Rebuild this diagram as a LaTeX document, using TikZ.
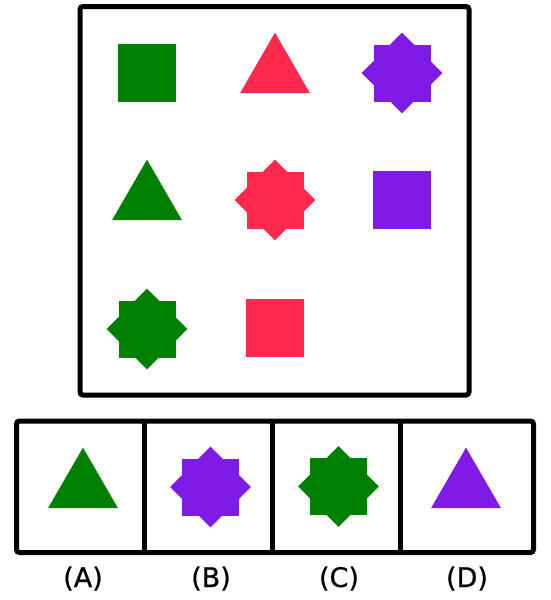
\documentclass[tikz,border=0pt]{standalone}
\usepackage{fontspec}
\setmainfont{DejaVu Sans}
\newfontfamily\lblfont[FakeBold=0.7]{DejaVu Sans}
\definecolor{cgreen}{RGB}{0,128,0}
\definecolor{cred}{RGB}{255,41,77}
\definecolor{cpurple}{RGB}{128,26,230}
\begin{document}
\begin{tikzpicture}[x=1pt,y=-1pt,
  frame/.style={draw=black,line width=5pt,rounded corners=3pt},
  divider/.style={draw=black,line width=5pt},
  lbl/.style={font=\lblfont\fontsize{27}{27}\selectfont,inner sep=0pt,anchor=base},
  sqr/.pic={\fill[pic actions] (-29,-29) rectangle (29,29);},
  tri/.pic={\fill[pic actions] (0,-40.4) -- (35,20.2) -- (-35,20.2) -- cycle;},
  star/.pic={\fill[pic actions] (-28.5,-28.5) rectangle (28.5,28.5);
             \fill[pic actions] (0,-40.3) -- (40.3,0) -- (0,40.3) -- (-40.3,0) -- cycle;}]
\useasboundingbox (0,0) rectangle (550,600);
% main panel
\draw[frame] (80,6.5) rectangle (469,395);
\pic[fill=cgreen]  at (147,73)  {sqr};
\pic[fill=cred]    at (275,73)  {tri};
\pic[fill=cpurple] at (402,73)  {star};
\pic[fill=cgreen]  at (147,200) {tri};
\pic[fill=cred]    at (275,200) {star};
\pic[fill=cpurple] at (402,200) {sqr};
\pic[fill=cgreen]  at (147,329) {star};
\pic[fill=cred]    at (275,328) {sqr};
% options
\draw[frame] (16.5,421) rectangle (533.5,552.5);
\draw[divider] (144.7,421) -- (144.7,552.5);
\draw[divider] (272.5,421) -- (272.5,552.5);
\draw[divider] (400.5,421) -- (400.5,552.5);
\pic[fill=cgreen]  at (83,488)  {tri};
\pic[fill=cpurple] at (210.5,487) {star};
\pic[fill=cgreen]  at (338.5,486.5) {star};
\pic[fill=cpurple] at (466,488)  {tri};
\node[lbl] (la) at (83,587)  {(A)};
\node[lbl] (lb) at (211,587) {(B)};
\node[lbl] (lc) at (339,587) {(C)};
\node[lbl] (ld) at (467,587) {(D)};
\end{tikzpicture}
\end{document}
